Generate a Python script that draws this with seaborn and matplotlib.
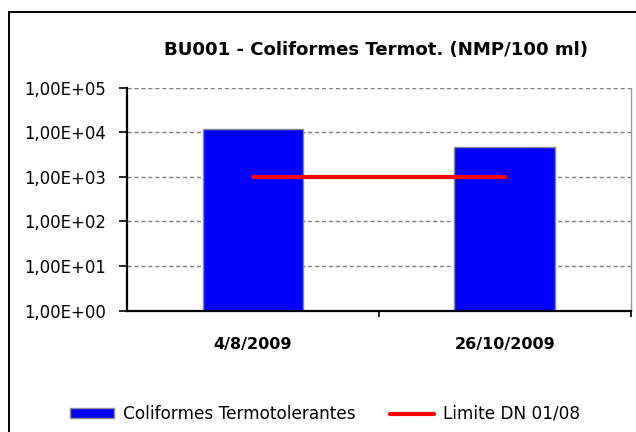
import numpy as np
import matplotlib
matplotlib.use("Agg")
import matplotlib.pyplot as plt
from matplotlib.patches import Patch, Rectangle
from matplotlib.lines import Line2D
from matplotlib.ticker import FixedLocator, FuncFormatter
import seaborn as sns

# Data
datas = ["4/8/2009", "26/10/2009"]
coliformes = [1.2e4, 4.8e3]
limite = [1.0e3, 1.0e3]
titulo = "BU001 - Coliformes Termot. (NMP/100 ml)"
serie_barras = "Coliformes Termotolerantes"
serie_linha = "Limite DN 01/08"

sns.set_theme(style="white")
plt.rcParams["font.family"] = ["DejaVu Sans"]
plt.rcParams["text.color"] = "black"

fig = plt.figure(figsize=(6.36, 4.32), dpi=100)
ax = fig.add_axes([127 / 636, 1 - 310.7 / 432, (630.5 - 127) / 636, (310.7 - 87.7) / 432])

ax.set_yscale("log")
sns.barplot(x=datas, y=coliformes, ax=ax, color="#0000FF", saturation=1,
            edgecolor="#8c8c8c", linewidth=1.0, width=0.4, zorder=3)
sns.lineplot(x=np.arange(len(datas)), y=limite, ax=ax, color="#FF0000",
             linewidth=3.0, solid_capstyle="round", zorder=4, legend=False)

ax.set_ylim(1, 1e5)
ax.set_xlim(-0.5, len(datas) - 0.5)

# Y axis: decades labelled in Excel scientific style
ax.yaxis.set_major_locator(FixedLocator([10.0 ** k for k in range(6)]))
ax.yaxis.set_minor_locator(FixedLocator([]))
ax.yaxis.set_major_formatter(FuncFormatter(lambda v, p: "{:.2E}".format(v).replace(".", ",")))
ax.tick_params(axis="y", which="major", direction="out", length=6, width=1.2,
               color="black", labelsize=11.9, pad=9, left=True, labelcolor="black")

# X axis: category labels centred, ticks between categories
ax.set_xticks(range(len(datas)))
ax.set_xticklabels(datas, fontweight="bold", fontsize=11.5)
ax.tick_params(axis="x", which="major", length=0, pad=19, labelcolor="black")
ax.set_xticks([i + 0.5 for i in range(len(datas))], minor=True)
ax.tick_params(axis="x", which="minor", direction="out", length=4, width=1.2,
               color="black", bottom=True)

ax.set_xlabel("")
ax.set_ylabel("")

ax.grid(axis="y", which="major", color="#808080", linestyle=(0, (3, 2)), linewidth=1.0, zorder=0)
ax.set_axisbelow(True)

for side in ["left", "bottom"]:
    ax.spines[side].set_color("black")
    ax.spines[side].set_linewidth(1.6)
    ax.spines[side].set_zorder(5)
ax.spines["right"].set_color("#9a9a9a")
ax.spines["right"].set_linewidth(1.0)
ax.spines["top"].set_visible(False)

fig.text(376.5 / 636, 1 - 50 / 432, titulo, ha="center", va="center",
         fontsize=13.1, fontweight="bold", color="black")

# Chart area border
fig.patches.append(Rectangle((9 / 636, -0.2), 2.0, 1.2 - 12 / 432, transform=fig.transFigure,
                             fill=False, edgecolor="black", linewidth=1.4, zorder=10))

handles = [
    Patch(facecolor="#0000FF", edgecolor="#8c8c8c", linewidth=1.0, label=serie_barras),
    Line2D([0], [0], color="#FF0000", linewidth=3.0, solid_capstyle="round", label=serie_linha),
]
fig.legend(handles=handles, loc="center", bbox_to_anchor=(325 / 636, 1 - 414 / 432), ncol=2,
           frameon=False, fontsize=12.2, handlelength=2.6, handleheight=0.5,
           handletextpad=0.53, columnspacing=2.07, labelcolor="black")

fig.savefig("out.png", dpi=100)
